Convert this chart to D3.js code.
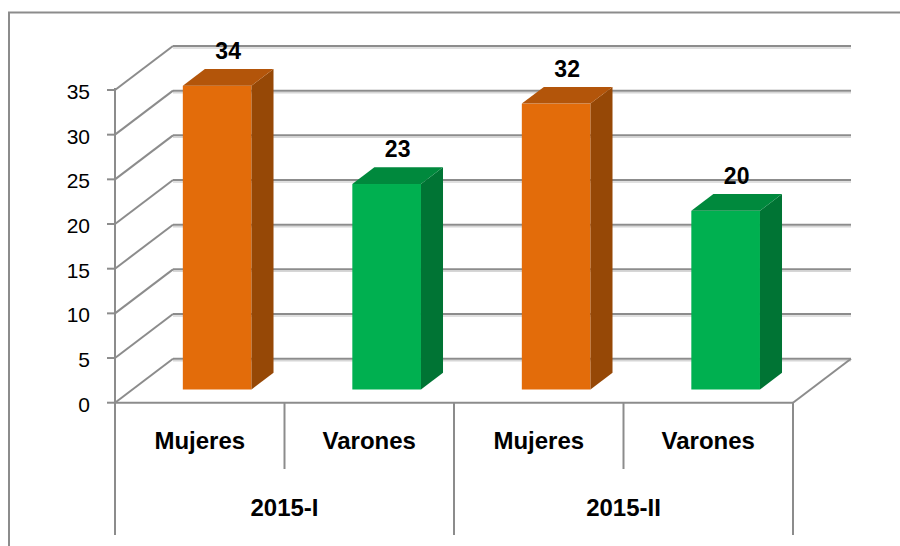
<!DOCTYPE html>
<html>
<head>
<meta charset="utf-8">
<script src="https://cdn.jsdelivr.net/npm/d3@7"></script>
<style>
	body { margin: 0; background: #fff; }
	svg { display: block; }
</style>
</head>
<body>
<svg id="chart" width="900" height="546"></svg>
<script>
// data
const categories = ["Mujeres", "Varones", "Mujeres", "Varones"];
const groups = ["2015-I", "2015-II"];
const values = [34, 23, 32, 20];
const y_ticks = [0, 5, 10, 15, 20, 25, 30, 35];

const color_dict = {
	mujeres: { front: "#e36c0a", top: "#b3550a", side: "#964806" },
	varones: { front: "#00b050", top: "#00893d", side: "#007434" },
	grid: "#8c8c8c",
	shade: "#d6d6d6",
};

const svg = d3.select("#chart");

// 3d box of the plot
const front_left = 115;
const front_right = 793;
const floor_y = 402.7;
const depth_x = 58;
const depth_y = -44;
const bar_z0 = 0.3; // bar front face, as fraction of the depth
const bar_z1 = 0.68; // bar back face

const y = d3.scaleLinear().domain([0, 35]).range([floor_y, 90]);

const x = d3
	.scaleBand()
	.domain(d3.range(categories.length))
	.range([front_left, front_right]);

const x_group = d3
	.scaleBand()
	.domain(groups)
	.range([front_left, front_right]);

const bar_w = x.bandwidth() * 0.405;

function shift(z) {
	return [depth_x * z, depth_y * z];
}

const grid = svg.append("g").attr("fill", "none");

// back wall lines (with a light shade under each)
grid
	.selectAll("line.shade")
	.data(y_ticks)
	.join("line")
	.attr("class", "shade")
	.attr("x1", front_left + depth_x)
	.attr("x2", front_right + depth_x)
	.attr("y1", (d) => y(d) + depth_y + 2)
	.attr("y2", (d) => y(d) + depth_y + 2)
	.attr("stroke", color_dict.shade)
	.attr("stroke-width", 1.5);

grid
	.selectAll("line.back")
	.data(y_ticks)
	.join("line")
	.attr("class", "back")
	.attr("x1", front_left + depth_x)
	.attr("x2", front_right + depth_x)
	.attr("y1", (d) => y(d) + depth_y)
	.attr("y2", (d) => y(d) + depth_y)
	.attr("stroke", color_dict.grid)
	.attr("stroke-width", 2);

// side wall lines
grid
	.selectAll("line.side")
	.data(y_ticks)
	.join("line")
	.attr("class", "side")
	.attr("x1", front_left)
	.attr("y1", (d) => y(d))
	.attr("x2", front_left + depth_x)
	.attr("y2", (d) => y(d) + depth_y)
	.attr("stroke", color_dict.grid)
	.attr("stroke-width", 2);

// floor right edge
grid
	.append("line")
	.attr("x1", front_right)
	.attr("y1", floor_y)
	.attr("x2", front_right + depth_x)
	.attr("y2", floor_y + depth_y)
	.attr("stroke", color_dict.grid)
	.attr("stroke-width", 2);

// bars
const bars = svg
	.append("g")
	.selectAll("g")
	.data(values)
	.join("g")
	.each(function (v, i) {
		const c = i % 2 === 0 ? color_dict.mujeres : color_dict.varones;
		const [sx0, sy0] = shift(bar_z0);
		const [sx1, sy1] = shift(bar_z1);
		const x0 = x(i) + (x.bandwidth() - bar_w) / 2 + sx0;
		const x1 = x0 + bar_w;
		const yb = y(0) + sy0;
		const yt = y(v) + sy0;
		const ddx = sx1 - sx0;
		const ddy = sy1 - sy0;
		const g = d3.select(this);
		g.append("rect")
			.attr("x", x0)
			.attr("y", yt)
			.attr("width", bar_w)
			.attr("height", yb - yt)
			.attr("fill", c.front);
		g.append("path")
			.attr(
				"d",
				`M${x1},${yt}L${x1 + ddx},${yt + ddy}L${x1 + ddx},${yb + ddy}L${x1},${yb}Z`
			)
			.attr("fill", c.side);
		g.append("path")
			.attr(
				"d",
				`M${x0},${yt}L${x0 + ddx},${yt + ddy}L${x1 + ddx},${yt + ddy}L${x1},${yt}Z`
			)
			.attr("fill", c.top);
	});

// value labels
svg
	.append("g")
	.attr("font-family", "'Liberation Sans', Arial, sans-serif")
	.attr("font-weight", "bold")
	.attr("font-size", 23)
	.attr("text-anchor", "middle")
	.selectAll("text")
	.data(values)
	.join("text")
	.attr("x", (d, i) => x(i) + x.bandwidth() / 2 + depth_x * (bar_z0 + bar_z1) / 2)
	.attr("y", (d) => y(d) + depth_y * bar_z1 - 10)
	.text((d) => d);

// front axis
const axis = svg.append("g").attr("stroke", color_dict.grid).attr("stroke-width", 2);
axis
	.append("line")
	.attr("x1", front_left)
	.attr("x2", front_left)
	.attr("y1", y(35) - 2)
	.attr("y2", 535);
axis
	.selectAll("line.tick")
	.data(y_ticks)
	.join("line")
	.attr("class", "tick")
	.attr("x1", front_left - 8)
	.attr("x2", front_left)
	.attr("y1", (d) => y(d))
	.attr("y2", (d) => y(d));
axis
	.append("line")
	.attr("x1", front_left)
	.attr("x2", front_right)
	.attr("y1", floor_y)
	.attr("y2", floor_y);

// category dividers
const dividers = d3.range(1, categories.length + 1).map((i) => ({
	x: i < categories.length ? x(i) : front_right,
	full: i % 2 === 0,
}));
axis
	.selectAll("line.div")
	.data(dividers)
	.join("line")
	.attr("class", "div")
	.attr("x1", (d) => d.x)
	.attr("x2", (d) => d.x)
	.attr("y1", floor_y)
	.attr("y2", (d) => (d.full ? 535 : 469));

// y tick labels
svg
	.append("g")
	.attr("font-family", "'Liberation Sans', Arial, sans-serif")
	.attr("font-size", 21)
	.attr("text-anchor", "end")
	.selectAll("text")
	.data(y_ticks)
	.join("text")
	.attr("x", 90)
	.attr("y", (d) => y(d) + 9)
	.text((d) => d);

// category labels
svg
	.append("g")
	.attr("font-family", "'Liberation Sans', Arial, sans-serif")
	.attr("font-weight", "bold")
	.attr("font-size", 24)
	.attr("text-anchor", "middle")
	.selectAll("text")
	.data(categories)
	.join("text")
	.attr("x", (d, i) => x(i) + x.bandwidth() / 2)
	.attr("y", 448.5)
	.text((d) => d);

svg
	.append("g")
	.attr("font-family", "'Liberation Sans', Arial, sans-serif")
	.attr("font-weight", "bold")
	.attr("font-size", 24)
	.attr("text-anchor", "middle")
	.selectAll("text")
	.data(groups)
	.join("text")
	.attr("x", (d) => x_group(d) + x_group.bandwidth() / 2)
	.attr("y", 516)
	.text((d) => d);

// chart frame (right and bottom sides fall outside the picture)
svg
	.append("path")
	.attr("d", "M9,546V12.5H900")
	.attr("fill", "none")
	.attr("stroke", color_dict.grid)
	.attr("stroke-width", 2);
</script>
</body>
</html>
